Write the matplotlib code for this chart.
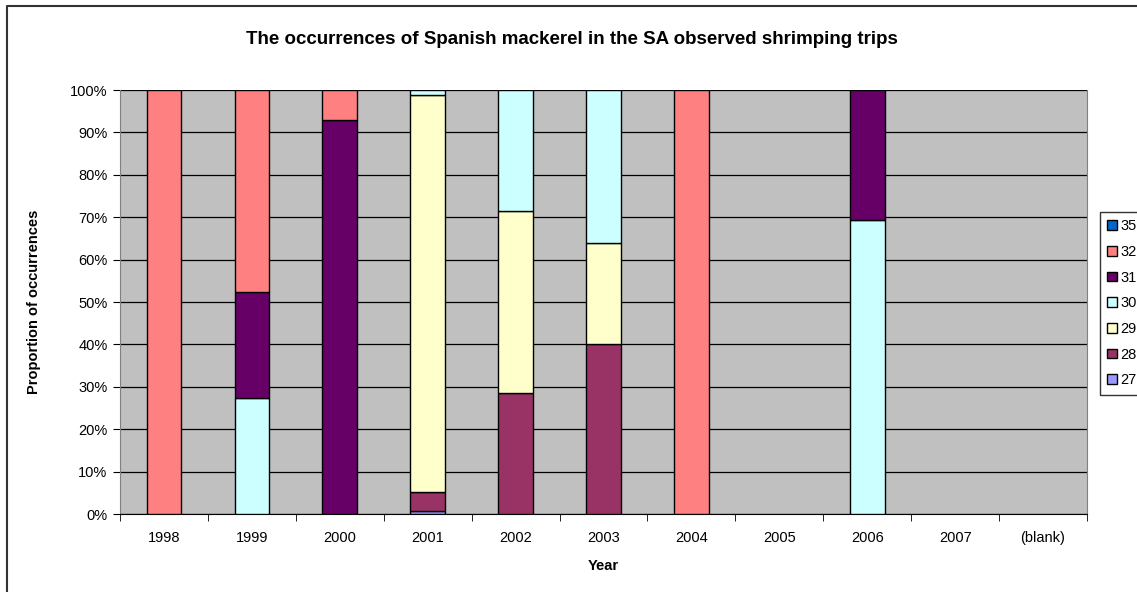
import matplotlib
matplotlib.use("Agg")
import matplotlib.pyplot as plt
from matplotlib.patches import Patch
from matplotlib.lines import Line2D
import numpy as np

plt.rcParams['font.family'] = ['Liberation Sans', 'DejaVu Sans']

years = ["1998", "1999", "2000", "2001", "2002", "2003", "2004", "2005", "2006", "2007", "(blank)"]
series_names = ["27", "28", "29", "30", "31", "32", "35"]
s27 = [0, 0, 0, 0.6, 0, 0, 0, 0, 0, 0, 0]
s28 = [0, 0, 0, 4.7, 28.6, 40.0, 0, 0, 0, 0, 0]
s29 = [0, 0, 0, 93.5, 42.8, 24.0, 0, 0, 0, 0, 0]
s30 = [0, 27.3, 0, 1.2, 28.6, 36.0, 0, 0, 69.4, 0, 0]
s31 = [0, 25.0, 92.9, 0, 0, 0, 0, 0, 30.6, 0, 0]
s32 = [100, 47.7, 7.1, 0, 0, 0, 100, 0, 0, 0, 0]
s35 = [0, 0, 0, 0, 0, 0, 0, 0, 0, 0, 0]
colors = {"27": "#9999FF", "28": "#993366", "29": "#FFFFCC", "30": "#CCFFFF",
          "31": "#660066", "32": "#FF8080", "35": "#0066CC"}
data = {"27": s27, "28": s28, "29": s29, "30": s30, "31": s31, "32": s32, "35": s35}

W, H = 1137, 592
fig = plt.figure(figsize=(W/100, H/100), dpi=100)
ax = fig.add_axes([120/W, (H-514)/H, (1087-120)/W, (514-90)/H])
ax.set_facecolor("#C0C0C0")

x = np.arange(len(years))
bottom = np.zeros(len(years))
for name in series_names:
    vals = np.array(data[name], dtype=float)
    mask = vals > 0
    ax.bar(x[mask], vals[mask], width=0.395, bottom=bottom[mask], color=colors[name],
           edgecolor="black", linewidth=1.0, zorder=3)
    bottom += vals

ax.set_xlim(-0.5, len(years) - 0.5)
ax.set_ylim(0, 100)
ax.set_yticks(np.arange(0, 101, 10))
ax.set_yticklabels([f"{v}%" for v in range(0, 101, 10)], fontsize=10.5)
ax.set_xticks(x)
ax.set_xticklabels(years, fontsize=10.5)
ax.tick_params(axis="x", length=0, pad=12)
ax.tick_params(axis="y", length=5, direction="out", pad=4)
ax.yaxis.grid(True, color="black", linewidth=0.9, zorder=1)
ax.set_axisbelow(True)
ax.spines["top"].set_visible(False)
ax.spines["right"].set_color("#808080")
ax.spines["left"].set_color("#808080")
ax.spines["bottom"].set_color("black")
ax.set_xticks(np.arange(-0.5, len(years), 1), minor=True)
ax.tick_params(axis="x", which="minor", length=5, direction="out")

ax.set_xlabel("Year", fontsize=10.5, fontweight="bold", labelpad=10)
ax.set_ylabel("Proportion of occurrences", fontsize=10.5, fontweight="bold", labelpad=21)
fig.text(572/W, 1 - 40/H, "The occurrences of Spanish mackerel in the SA observed shrimping trips",
         ha="center", va="center", fontsize=13.5, fontweight="bold")

# outer border (top and left edges visible)
fig.add_artist(Line2D([7/W, 7/W, 1.0], [0.0, 1 - 6/H, 1 - 6/H], transform=fig.transFigure,
                      color="#333333", linewidth=1.5))

handles = [Patch(facecolor=colors[n], edgecolor="black", label=n) for n in reversed(series_names)]
leg = fig.legend(handles=handles, loc="upper left", bbox_to_anchor=(1100/W, 1 - 212/H),
                 frameon=True, fancybox=False, edgecolor="black", fontsize=10.5,
                 handlelength=0.65, handleheight=0.65, handletextpad=0.25,
                 labelspacing=0.8, borderpad=0.5, borderaxespad=0)
leg.get_frame().set_linewidth(1.0)

fig.savefig("out.png", dpi=100)
